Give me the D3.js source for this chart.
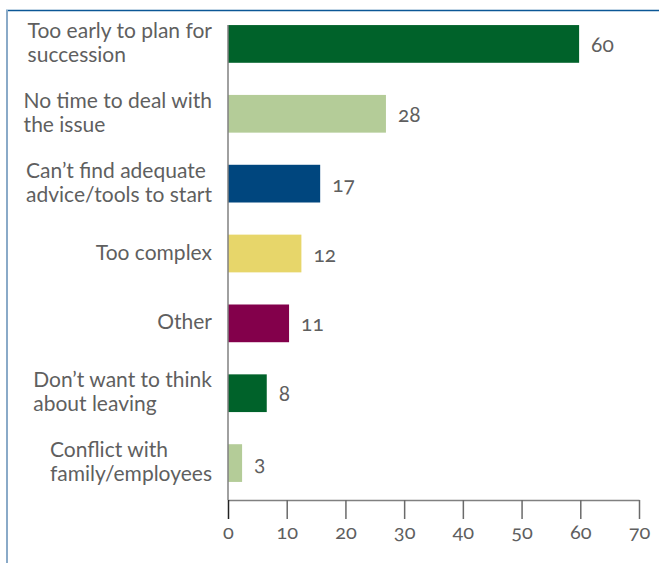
<!DOCTYPE html>
<html>
<head>
<meta charset="utf-8">
<script src="https://cdn.jsdelivr.net/npm/d3@7"></script>
<style>
  body { margin: 0; background: #fff; }
  text { font-family: Lato, "Open Sans", sans-serif; fill: #5f5f5f; }
  .num { font-feature-settings: "onum" 1; font-variant-numeric: oldstyle-nums; }
</style>
</head>
<body>
<svg id="chart" width="659" height="563"></svg>
<script>
// reasons for not planning succession, top to bottom
var categories = [
  ["Too early to plan for", "succession"],
  ["No time to deal with", "the issue"],
  ["Can\u2019t find adequate", "advice/tools to start"],
  ["Too complex"],
  ["Other"],
  ["Don\u2019t want to think", "about leaving"],
  ["Conflict with", "family/employees"]
]
var values = [60, 28, 17, 12, 11, 8, 3]
// bar lengths as drawn in the original (they don't match the labels exactly)
var barLengths = [59.8, 26.9, 15.7, 12.5, 10.4, 6.6, 2.4]
var colors = ["#00622a", "#b4cc98", "#00467e", "#e7d66a", "#83004b", "#00622a", "#b4cc98"]
var xTicks = [0, 10, 20, 30, 40, 50, 60, 70]

var svg = d3.select('#chart')

// frame: dark top rule, pale left rule
svg.append('line').attr('x1', 6).attr('x2', 659).attr('y1', 10.5).attr('y2', 10.5)
    .attr('stroke', '#0b5796').attr('stroke-width', 1.5)
svg.append('line').attr('x1', 7).attr('x2', 7).attr('y1', 10).attr('y2', 563)
    .attr('stroke', '#8aaac8').attr('stroke-width', 2)

var x = d3.scaleLinear().domain([0, 70]).range([228, 639])
var y = d3.scaleBand().domain(d3.range(values.length)).range([9, 498])
    .paddingInner(0.46).paddingOuter(0.23)

// bars
svg.selectAll('.bar')
    .data(barLengths)
    .join('rect')
    .classed('bar', true)
    .attr('x', x(0))
    .attr('y', (d, i) => y(i))
    .attr('width', d => x(d) - x(0))
    .attr('height', y.bandwidth())
    .attr('fill', (d, i) => colors[i])

// vertical axis line
svg.append('line').attr('x1', x(0)).attr('x2', x(0)).attr('y1', 25).attr('y2', 500)
    .attr('stroke', '#808080').attr('stroke-width', 1.5)

// x axis
var xAxis = svg.append('g')
    .attr('transform', 'translate(0,500)')
    .call(d3.axisBottom(x).tickValues(xTicks).tickSizeInner(19).tickSizeOuter(0).tickPadding(6))
xAxis.select('.domain').attr('stroke', '#808080').attr('stroke-width', 1.5)
xAxis.selectAll('.tick line').attr('stroke', (d) => d === 0 ? '#222' : '#6a6a6a').attr('stroke-width', 1.5)
xAxis.selectAll('.tick text')
    .classed('num', true)
    .attr('fill', '#5f5f5f')
    .style('font-family', 'Lato, "Open Sans", sans-serif')
    .style('font-size', '20px')

// value labels
svg.selectAll('.val')
    .data(values)
    .join('text')
    .classed('val num', true)
    .attr('x', (d, i) => x(barLengths[i]) + 12)
    .attr('y', (d, i) => y(i) + y.bandwidth() / 2 + 8)
    .style('font-size', '21px')
    .text(d => d)

// category labels: lines left aligned, block pushed against x=212
var labels = svg.selectAll('.cat')
    .data(categories)
    .join('text')
    .classed('cat', true)
    .style('font-size', '21px')

labels.each(function(lines, i) {
    var t = d3.select(this)
    var cy = y(i) + y.bandwidth() / 2
    lines.forEach((ln, k) => {
        t.append('tspan')
            .attr('y', cy + 6 + (k - (lines.length - 1) / 2) * 24)
            .text(ln)
    })
    var w = d3.max(t.selectAll('tspan').nodes(), n => n.getComputedTextLength())
    t.selectAll('tspan').attr('x', 212 - w)
})
</script>
</body>
</html>
